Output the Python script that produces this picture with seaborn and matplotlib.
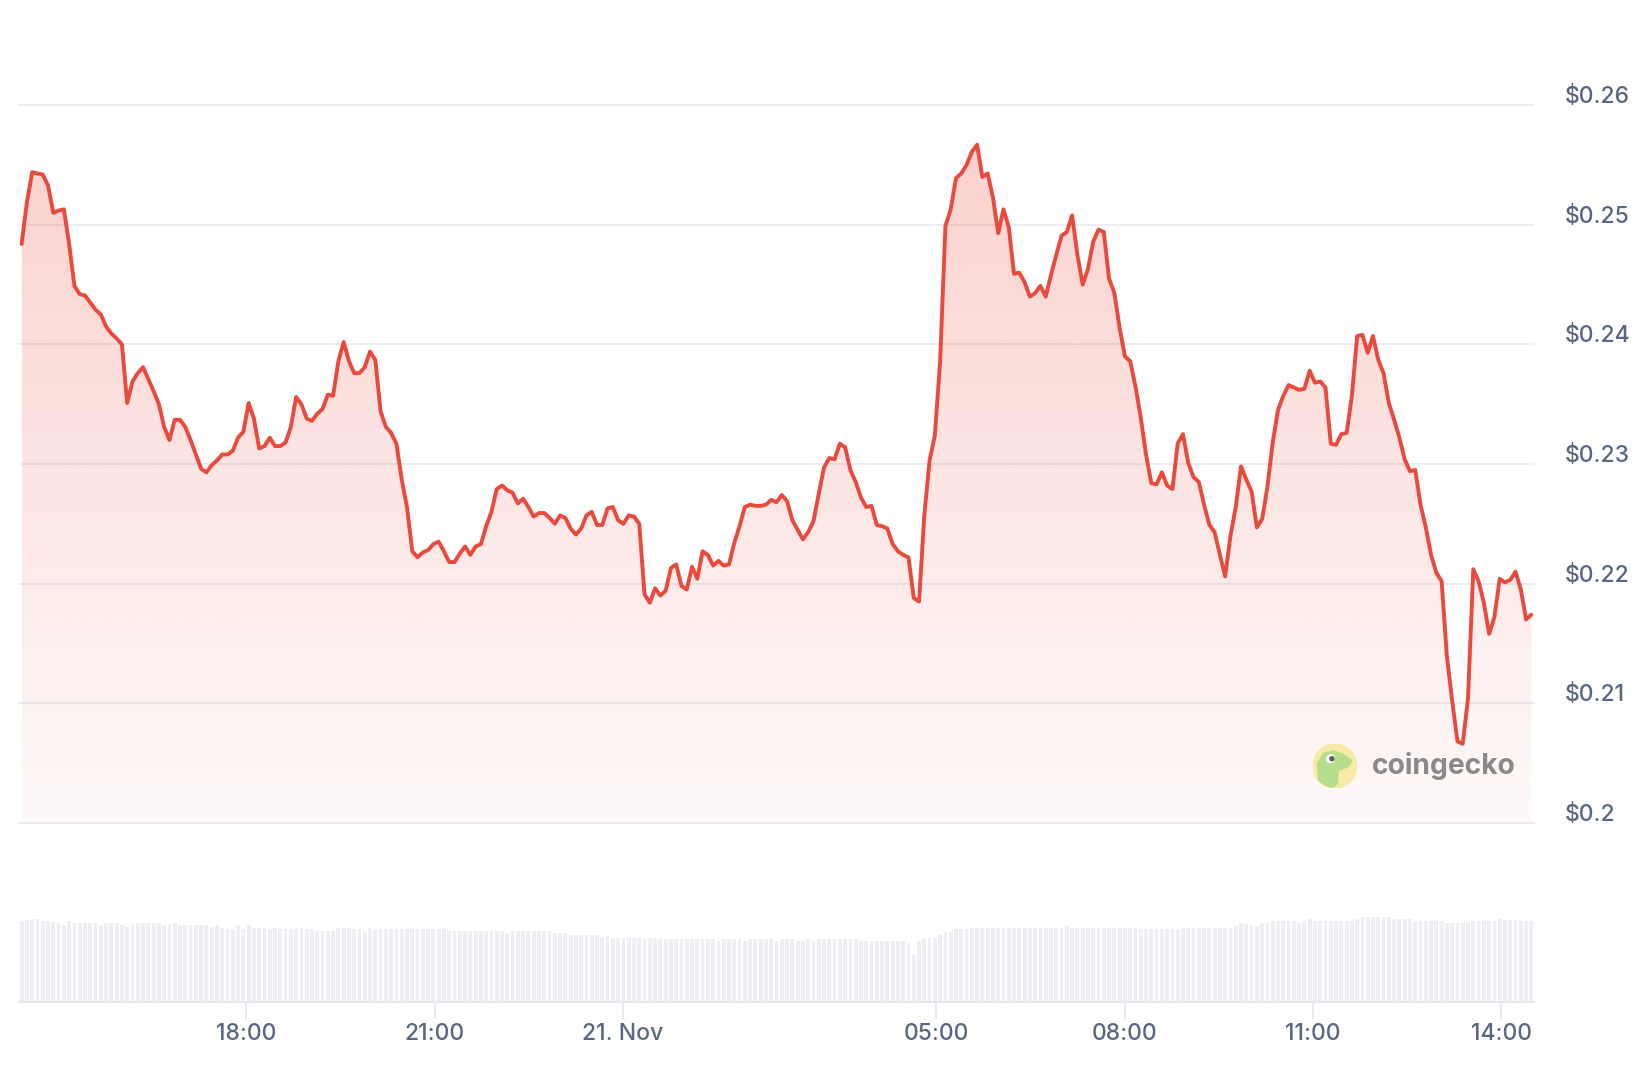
import numpy as np
import pandas as pd
import seaborn as sns
import matplotlib.pyplot as plt
import matplotlib.dates as mdates
from matplotlib.patches import Circle, Polygon
from matplotlib.colors import to_rgb
from matplotlib.transforms import ScaledTranslation

# 5-minute price samples, 20 Nov 14:25 -> 21 Nov 14:29
start_time = "2024-11-20 14:25"
end_time = "2024-11-21 14:29"

price = [
    0.2484, 0.2519, 0.2544, 0.2543, 0.2542, 0.2533, 0.2510, 0.2512, 0.2513, 0.2484,
    0.2449, 0.2442, 0.2441, 0.2435, 0.2429, 0.2425, 0.2415, 0.2409, 0.2405, 0.2400,
    0.2351, 0.2369, 0.2376, 0.2381, 0.2371, 0.2361, 0.2350, 0.2331, 0.2320, 0.2337,
    0.2337, 0.2331, 0.2320, 0.2308, 0.2296, 0.2293, 0.2299, 0.2303, 0.2308, 0.2308,
    0.2311, 0.2322, 0.2327, 0.2351, 0.2338, 0.2313, 0.2315, 0.2322, 0.2315, 0.2315,
    0.2318, 0.2331, 0.2356, 0.2350, 0.2338, 0.2336, 0.2342, 0.2346, 0.2358, 0.2357,
    0.2386, 0.2402, 0.2386, 0.2376, 0.2376, 0.2381, 0.2394, 0.2387, 0.2344, 0.2331,
    0.2326, 0.2317, 0.2287, 0.2264, 0.2227, 0.2222, 0.2226, 0.2228, 0.2233, 0.2235,
    0.2227, 0.2218, 0.2218, 0.2225, 0.2231, 0.2224, 0.2231, 0.2233, 0.2248, 0.2260,
    0.2279, 0.2282, 0.2278, 0.2276, 0.2267, 0.2271, 0.2264, 0.2256, 0.2259, 0.2259,
    0.2255, 0.2250, 0.2257, 0.2255, 0.2246, 0.2241, 0.2246, 0.2257, 0.2260, 0.2249,
    0.2249, 0.2263, 0.2264, 0.2253, 0.2250, 0.2257, 0.2256, 0.2250, 0.2191, 0.2184,
    0.2196, 0.2190, 0.2194, 0.2213, 0.2216, 0.2198, 0.2195, 0.2214, 0.2204, 0.2227,
    0.2224, 0.2215, 0.2219, 0.2215, 0.2216, 0.2234, 0.2248, 0.2264, 0.2266, 0.2265,
    0.2265, 0.2266, 0.2270, 0.2268, 0.2274, 0.2269, 0.2253, 0.2245, 0.2237, 0.2243,
    0.2252, 0.2275, 0.2297, 0.2305, 0.2304, 0.2317, 0.2314, 0.2295, 0.2285, 0.2272,
    0.2264, 0.2265, 0.2249, 0.2248, 0.2246, 0.2233, 0.2227, 0.2224, 0.2222, 0.2188,
    0.2185, 0.2257, 0.2303, 0.2324, 0.2386, 0.2499, 0.2513, 0.2539, 0.2543, 0.2550,
    0.2561, 0.2567, 0.2540, 0.2543, 0.2523, 0.2493, 0.2513, 0.2498, 0.2459, 0.2460,
    0.2452, 0.2440, 0.2443, 0.2449, 0.2440, 0.2458, 0.2475, 0.2491, 0.2494, 0.2508,
    0.2475, 0.2450, 0.2463, 0.2486, 0.2496, 0.2494, 0.2455, 0.2443, 0.2414, 0.2390,
    0.2386, 0.2365, 0.2339, 0.2308, 0.2284, 0.2283, 0.2293, 0.2282, 0.2279, 0.2317,
    0.2325, 0.2301, 0.2289, 0.2285, 0.2266, 0.2249, 0.2243, 0.2224, 0.2206, 0.2240,
    0.2264, 0.2298, 0.2287, 0.2277, 0.2247, 0.2254, 0.2281, 0.2318, 0.2345, 0.2357,
    0.2366, 0.2364, 0.2362, 0.2363, 0.2378, 0.2368, 0.2369, 0.2364, 0.2317, 0.2316,
    0.2325, 0.2326, 0.2357, 0.2407, 0.2408, 0.2393, 0.2407, 0.2387, 0.2376, 0.2351,
    0.2337, 0.2322, 0.2304, 0.2294, 0.2295, 0.2266, 0.2247, 0.2224, 0.2209, 0.2202,
    0.2139, 0.2102, 0.2068, 0.2066, 0.2104, 0.2212, 0.2202, 0.2184, 0.2158, 0.2172,
    0.2204, 0.2201, 0.2203, 0.2210, 0.2195, 0.2170, 0.2174,
]

# 24h volume (relative units), one bar per price sample
volume = [
    81.0, 82.0, 82.7, 82.7, 81.0, 81.0, 80.0, 78.7, 76.7, 81.0,
    78.7, 78.7, 78.7, 78.7, 78.7, 76.7, 78.7, 78.7, 78.7, 76.7,
    75.3, 77.7, 78.7, 78.7, 78.7, 78.7, 78.7, 76.7, 77.7, 78.7,
    76.7, 76.7, 76.7, 76.7, 76.7, 76.7, 75.3, 76.7, 74.3, 72.7,
    72.7, 76.7, 72.7, 76.7, 74.3, 74.3, 74.3, 72.7, 74.3, 72.7,
    72.7, 72.7, 74.3, 74.3, 72.7, 72.7, 71.0, 71.0, 71.0, 71.0,
    74.3, 74.3, 74.3, 72.7, 72.7, 71.0, 74.3, 72.7, 72.7, 72.7,
    72.7, 72.7, 72.7, 72.7, 72.7, 72.7, 72.7, 72.7, 72.7, 72.7,
    72.7, 71.0, 71.0, 71.0, 71.0, 71.0, 71.0, 71.0, 71.0, 71.0,
    71.0, 71.0, 69.3, 71.0, 71.0, 71.0, 71.0, 71.0, 71.0, 71.0,
    71.0, 68.7, 68.7, 68.7, 66.7, 66.7, 66.7, 66.7, 66.7, 66.7,
    65.3, 66.7, 64.3, 64.3, 64.3, 64.3, 64.3, 64.3, 62.7, 64.3,
    64.3, 62.7, 62.7, 62.7, 62.7, 62.7, 62.7, 62.7, 62.7, 62.7,
    62.7, 62.7, 61.0, 62.7, 62.7, 62.7, 62.7, 61.0, 62.7, 62.7,
    62.7, 62.7, 62.7, 61.0, 62.7, 62.7, 62.7, 61.0, 61.0, 62.7,
    61.0, 62.7, 62.7, 62.7, 62.7, 62.7, 62.7, 62.7, 62.7, 61.0,
    61.0, 61.0, 61.0, 61.0, 61.0, 61.0, 61.0, 61.0, 58.7, 46.7,
    61.0, 62.7, 64.3, 64.3, 66.7, 70.0, 70.0, 72.7, 72.7, 72.7,
    74.3, 74.3, 74.3, 74.3, 74.3, 74.3, 74.3, 74.3, 74.3, 74.3,
    74.3, 74.3, 74.3, 74.3, 74.3, 74.3, 74.3, 74.3, 76.0, 74.3,
    74.3, 74.3, 74.3, 74.3, 74.3, 74.3, 74.3, 74.3, 74.3, 74.3,
    74.3, 74.3, 72.7, 72.7, 72.7, 72.7, 72.7, 72.7, 72.7, 72.7,
    74.3, 74.3, 74.3, 74.3, 74.3, 74.3, 74.3, 74.3, 74.3, 74.3,
    76.0, 78.7, 77.7, 76.0, 76.0, 78.7, 78.7, 81.0, 81.0, 81.0,
    81.0, 81.0, 78.7, 81.0, 82.7, 81.0, 81.0, 81.0, 81.0, 81.0,
    81.0, 81.0, 81.0, 82.7, 85.0, 85.0, 85.0, 85.0, 85.0, 85.0,
    82.7, 82.7, 82.7, 82.7, 81.0, 81.0, 81.0, 81.0, 81.0, 81.0,
    78.7, 78.7, 78.7, 78.7, 78.7, 81.0, 81.0, 81.0, 81.0, 81.0,
    82.7, 81.7, 81.7, 81.7, 81.0, 81.0, 81.0,
]

tick_times = ["2024-11-20 18:00", "2024-11-20 21:00", "2024-11-21 00:00",
              "2024-11-21 05:00", "2024-11-21 08:00", "2024-11-21 11:00",
              "2024-11-21 14:00"]
tick_labels = ["18:00", "21:00", "21. Nov", "05:00", "08:00", "11:00", "14:00"]

price_ticks = [0.20, 0.21, 0.22, 0.23, 0.24, 0.25, 0.26]
price_labels = ["$0.2", "$0.21", "$0.22", "$0.23", "$0.24", "$0.25", "$0.26"]

RED = "#ea4a3c"
LABEL = "#5a6782"
GRID = "#ecedf2"
VOL = "#eeeff3"

times = pd.date_range(start_time, end_time, periods=len(price))
df = pd.DataFrame({"t": mdates.date2num(times), "price": price, "volume": volume})

sns.set_theme(style="white")
plt.rcParams["font.family"] = ["Inter", "DejaVu Sans"]

W, H = 1652, 1074
fig = plt.figure(figsize=(W / 100, H / 100), dpi=100)
ax = fig.add_axes([19 / W, 1 - 822.7 / H, 1515 / W, (822.7 - 105.3) / H])
axv = fig.add_axes([19 / W, 1 - 1002 / H, 1515 / W, 100 / H])

dt = np.diff(df["t"]).mean()
xlim = (df["t"].iloc[0] - dt / 2, df["t"].iloc[-1] + dt / 2)

# price line
sns.lineplot(data=df, x="t", y="price", ax=ax, color=RED, linewidth=2.8,
             estimator=None, zorder=3)

# gradient fill under the line
rgb = to_rgb(RED)
grad = np.zeros((256, 1, 4))
grad[:, 0, :3] = rgb
grad[:, 0, 3] = np.linspace(0.03, 0.25, 256)
im = ax.imshow(grad, origin="lower", aspect="auto", zorder=2,
               extent=[df["t"].iloc[0], df["t"].iloc[-1], 0.2, max(price)])
poly = ax.fill_between(df["t"], df["price"], 0.2, facecolor="none", edgecolor="none")
im.set_clip_path(poly.get_paths()[0], transform=ax.transData)

ax.set_xlim(xlim)
ax.set_ylim(0.2, 0.26)
ax.set_yticks(price_ticks)
ax.set_yticklabels(price_labels)
ax.yaxis.tick_right()
ax.tick_params(axis="y", length=0, pad=22, labelsize=16.5, labelcolor=LABEL)
shift = ScaledTranslation(0, 2 / 100, fig.dpi_scale_trans)
for lab in ax.get_yticklabels():
    lab.set_va("baseline")
    lab.set_fontweight(500)
    lab.set_transform(lab.get_transform() + shift)
ax.set_xticks([])
ax.grid(axis="y", color=GRID, linewidth=1.4)
for gl in ax.get_ygridlines():
    gl.set_clip_on(False)
ax.set_axisbelow(True)
ax.set_xlabel("")
ax.set_ylabel("")
for s in ax.spines.values():
    s.set_visible(False)

# volume bars
sns.barplot(data=df, x="t", y="volume", ax=axv, native_scale=True, color=VOL,
            saturation=1, width=0.72, errorbar=None, linewidth=0)
axv.set_xlim(xlim)
axv.set_ylim(0, 100)
axv.set_yticks([])
axv.set_xticks(mdates.date2num(pd.to_datetime(tick_times)))
axv.set_xticklabels(tick_labels)
axv.tick_params(axis="x", bottom=True, length=12, width=1.3, color="#e6e8ee",
                pad=3, labelsize=16.5, labelcolor=LABEL)
for lab in axv.get_xticklabels():
    lab.set_fontweight(500)
axv.set_xlabel("")
axv.set_ylabel("")
for k, s in axv.spines.items():
    s.set_visible(k == "bottom")
axv.spines["bottom"].set_color("#e6e8ee")
axv.spines["bottom"].set_linewidth(1.5)

# coingecko watermark
lax = fig.add_axes([1313 / W, 1 - 788 / H, 44 / W, 44 / H])
lax.set_xlim(-1, 1)
lax.set_ylim(-1, 1)
lax.axis("off")
disc = Circle((0, 0), 1, color="#f8eaa6")
lax.add_patch(disc)
gecko = Polygon([(-0.75, -0.65), (-0.8, 0.1), (-0.55, 0.55), (-0.1, 0.68), (0.35, 0.55),
                 (0.78, 0.22), (0.55, -0.05), (0.15, -0.2), (0.1, -0.8), (-0.2, -1.05)],
                closed=True, color="#b7dd8e")
lax.add_patch(gecko)
gecko.set_clip_path(disc)
lax.add_patch(Circle((-0.2, 0.33), 0.17, color="white"))
lax.add_patch(Circle((-0.14, 0.33), 0.09, color="#5c5c5c"))
fig.text(1372 / W, 1 - 766 / H, "coingecko", fontsize=20.3, fontweight="bold",
         color="#8a8a8a", va="center", ha="left")

fig.savefig("out.png", dpi=100)
